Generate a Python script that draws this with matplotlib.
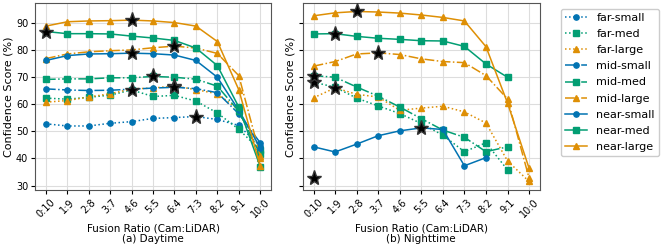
import numpy as np
import matplotlib
matplotlib.use("Agg")
import matplotlib.pyplot as plt

ratios = ["0:10", "1:9", "2:8", "3:7", "4:6", "5:5", "6:4", "7:3", "8:2", "9:1", "10:0"]

# 주간 (a) Daytime
day_far_small = [52.8, 52.0, 52.0, 53.0, 53.6, 54.8, 55.1, 55.5, 54.4, 52.2, 44.5]
day_far_med = [62.3, 61.9, 62.6, 63.4, 65.3, 62.9, 63.3, 61.2, 56.8, 50.8, 43.0]
day_far_large = [60.8, 61.4, 62.7, 63.9, 65.7, 66.0, 66.8, 65.4, 63.9, 58.0, 40.0]
day_mid_small = [65.7, 65.3, 65.1, 65.2, 65.6, 66.0, 66.3, 65.8, 64.3, 56.5, 45.8]
day_mid_med = [69.2, 69.4, 69.4, 69.8, 69.8, 70.3, 70.0, 69.3, 66.7, 57.5, 41.5]
day_mid_large = [76.9, 78.6, 79.4, 79.8, 80.1, 80.9, 81.5, 80.8, 78.8, 70.6, 41.0]
day_near_small = [76.2, 78.0, 78.6, 78.7, 78.9, 78.7, 78.2, 76.2, 70.0, 57.8, 44.0]
day_near_med = [86.9, 86.1, 86.1, 86.0, 85.2, 84.5, 83.6, 80.8, 74.3, 59.0, 37.0]
day_near_large = [88.9, 90.5, 90.8, 90.9, 91.1, 90.8, 90.2, 88.9, 83.2, 65.4, 37.2]

# 야간 (b) Nighttime
night_far_small = [32.7, None, None, None, None, None, None, None, None, None, None]
night_far_med = [68.2, 66.3, 62.3, 59.4, 56.6, 52.9, 48.6, 42.5, 45.8, 35.8, None]
night_far_large = [62.4, 66.1, 63.7, 62.7, 57.8, 58.6, 59.3, 57.2, 53.1, 39.1, 31.5]
night_mid_small = [None, None, None, None, None, None, None, None, None, None, None]
night_mid_med = [70.6, 70.0, 66.4, 63.0, 59.0, 54.7, 50.5, 47.8, 42.5, 44.3, None]
night_mid_large = [74.1, 75.8, 78.6, 79.0, 78.4, 76.8, 75.8, 75.4, 70.6, 62.0, 32.8]
night_near_small = [44.3, 42.4, 45.3, 48.4, 50.2, 51.3, 50.7, 37.3, 40.3, None, None]
night_near_med = [86.0, 86.1, 85.1, 84.4, 84.0, 83.5, 83.4, 81.4, 74.9, 70.0, None]
night_near_large = [92.7, 93.8, 94.3, 94.1, 93.7, 93.0, 92.1, 90.8, 81.3, 60.5, 36.4]

names = ["far-small", "far-med", "far-large", "mid-small", "mid-med", "mid-large",
         "near-small", "near-med", "near-large"]
day_series = [day_far_small, day_far_med, day_far_large, day_mid_small, day_mid_med,
              day_mid_large, day_near_small, day_near_med, day_near_large]
night_series = [night_far_small, night_far_med, night_far_large, night_mid_small, night_mid_med,
                night_mid_large, night_near_small, night_near_med, night_near_large]

colors = {"small": "#0173B2", "med": "#029E73", "large": "#DE8F05"}
markers = {"small": "o", "med": "s", "large": "^"}
styles = {"far": ":", "mid": "-.", "near": "-"}

plt.rcParams["font.family"] = ["DejaVu Sans"]
fig = plt.figure(figsize=(6.64, 2.48), dpi=100)
ax1 = fig.add_axes([0.053, 0.234, 0.355, 0.754])
ax2 = fig.add_axes([0.456, 0.234, 0.357, 0.754], sharey=ax1)

x = np.arange(len(ratios))


def draw(ax, series_list, sub):
    for name, vals in zip(names, series_list):
        dist, size = name.split("-")
        y = np.array([np.nan if v is None else v for v in vals], dtype=float)
        ax.plot(x, y, linestyle=styles[dist], marker=markers[size], color=colors[size],
                linewidth=1.1, markersize=3.8, label=name, zorder=3)
    # 각 시리즈 최대값 별표
    for vals in series_list:
        y = np.array([np.nan if v is None else v for v in vals], dtype=float)
        if np.all(np.isnan(y)):
            continue
        i = int(np.nanargmax(y))
        ax.plot(x[i], y[i], marker="*", color="black", markersize=11,
                markeredgecolor="#333333", linestyle="none", zorder=5)
    ax.grid(True, color="#dddddd", linewidth=0.8)
    ax.set_axisbelow(True)
    ax.set_xticks(x)
    ax.set_xticklabels(ratios, rotation=45, fontsize=7)
    ax.tick_params(axis="both", labelsize=7, length=3, pad=2)
    ax.set_xlabel(f"Fusion Ratio (Cam:LiDAR)\n{sub}", fontsize=7.5, labelpad=3,
                  linespacing=1.1)
    ax.set_ylabel("Confidence Score (%)", fontsize=8, labelpad=2)
    for s in ax.spines.values():
        s.set_color("#555555")


draw(ax1, day_series, "(a) Daytime")
draw(ax2, night_series, "(b) Nighttime")
ax1.set_yticks([30, 40, 50, 60, 70, 80, 90])
plt.setp(ax2.get_yticklabels(), visible=False)

handles, labels = ax1.get_legend_handles_labels()
ax2.legend(handles, labels, loc="upper left", bbox_to_anchor=(1.065, 1.0), fontsize=8,
           handlelength=2.0, labelspacing=0.55, framealpha=1.0)

fig.savefig("out.png", dpi=100)
